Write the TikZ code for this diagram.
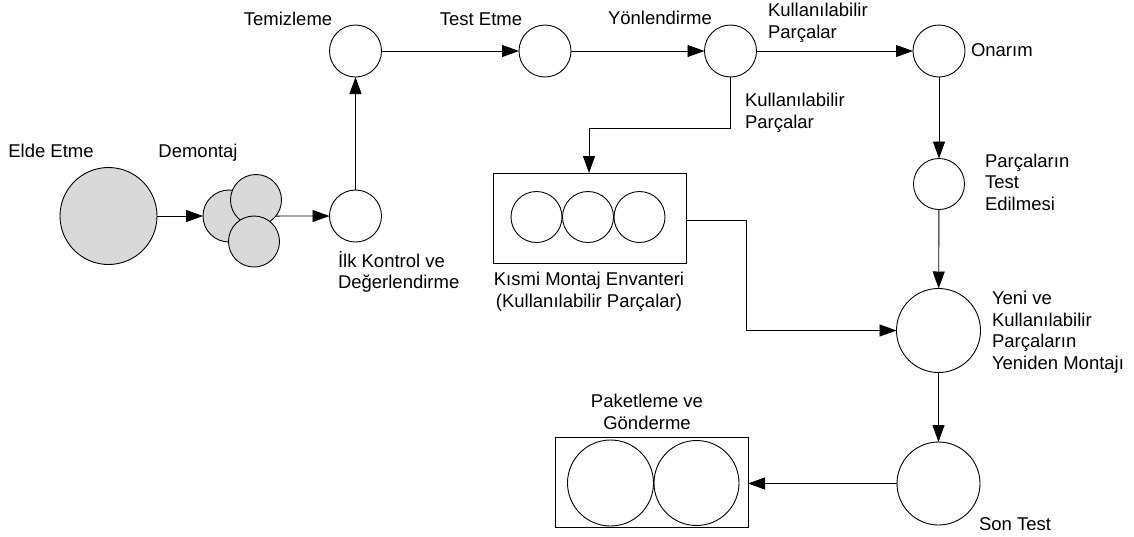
\documentclass[tikz,border=0pt]{standalone}
\usepackage{fontspec}
\setmainfont{Liberation Sans}
\usetikzlibrary{arrows.meta}
\begin{document}
\begin{tikzpicture}[x=1pt,y=-1pt,
  every node/.style={inner sep=0pt,outer sep=0pt},
  proc/.style={circle,draw,line width=0.9pt,fill=white},
  part/.style={circle,draw,line width=0.9pt,fill=gray!30},
  tray/.style={draw,line width=0.9pt,fill=white},
  flow/.style={draw,line width=0.9pt,-{Triangle[length=17pt,width=12pt]}},
  lbl/.style={font=\fontsize{18.5}{21.5}\selectfont,align=center},
  lbll/.style={font=\fontsize{18.5}{21.5}\selectfont,align=left,anchor=west}]
\useasboundingbox (0,0) rectangle (1134,536);

% acquisition and disassembly
\node[part,minimum size=97pt] (elde) at (108.5,216) {};
\node[part,minimum size=52pt] (dm1) at (229,216) {};
\node[part,minimum size=51pt] (dm2) at (256,200) {};
\node[part,minimum size=51pt] (dm3) at (254,241.5) {};

% single process steps
\node[proc,minimum size=52pt] (ilk) at (355.5,216) {};
\node[proc,minimum size=52pt] (temiz) at (355.5,51) {};
\node[proc,minimum size=52pt] (test) at (545,51) {};
\node[proc,minimum size=52pt] (yon) at (730.5,51) {};
\node[proc,minimum size=52pt] (onarim) at (939,51) {};
\node[proc,minimum size=51pt] (ptest) at (939,184) {};
\node[proc,minimum size=84pt] (yeni) at (938.5,330.5) {};
\node[proc,minimum size=83pt] (son) at (938.5,483.5) {};

% sub-assembly inventory
\node[tray,minimum width=193pt,minimum height=90pt] (kismi) at (589.5,218) {};
\node[proc,minimum size=51pt] (k1) at (536.5,217) {};
\node[proc,minimum size=51pt] (k2) at (588,217) {};
\node[proc,minimum size=51pt] (k3) at (639.5,217) {};

% packaging and shipping
\node[tray,minimum width=193pt,minimum height=90pt] (paket) at (651.5,482) {};
\node[proc,minimum size=86pt] (p1) at (610.5,483) {};
\node[proc,minimum size=85pt] (p2) at (696.5,483) {};

% connectors
\path[flow] (elde) -- (dm1);
\path[flow] (dm2.-39) -- (ilk);
\path[flow] (ilk) -- (temiz);
\path[flow] (temiz) -- (test);
\path[flow] (test) -- (yon);
\path[flow] (yon) -- (onarim);
\coordinate (c1) at (730.5,128);
\coordinate (c2) at (589,128);
\path[flow] (yon.south) -- (c1) -- (c2) -- (c2 |- kismi.north);
\coordinate (c3) at (746,220);
\coordinate (c4) at (746,330.5);
\path[flow] (kismi.east |- c3) -- (c3) -- (c4) -- (yeni.west);
\path[flow] (onarim) -- (ptest);
\path[flow] (ptest) -- (yeni);
\path[flow] (yeni) -- (son);
\path[flow] (son.west) -- (paket.east |- son.west);

% labels
\node[lbl] (tElde) at (51,151) {Elde Etme};
\node[lbl] (tDem) at (198,153) {Demontaj};
\node[lbll] (tIlk) at (338,272) {İlk Kontrol ve\\Değerlendirme};
\node[lbl] (tTem) at (288,19) {Temizleme};
\node[lbl] (tTest) at (481,19) {Test Etme};
\node[lbl] (tYon) at (660,18) {Yönlendirme};
\node[lbll] (tKul1) at (768,23) {Kullanılabilir\\Parçalar};
\node[lbll] (tKul2) at (745,113) {Kullanılabilir\\Parçalar};
\node[lbll] (tOn) at (971,50) {Onarım};
\node[lbll] (tPt) at (985,182) {Parçaların\\Test\\Edilmesi};
\node[lbll] (tYeni) at (992,332) {Yeni ve\\Kullanılabilir\\Parçaların\\Yeniden Montajı};
\node[lbll] (tSon) at (979,524) {Son Test};
\node[lbl] (tKis) at (589,292) {Kısmi Montaj Envanteri\\(Kullanılabilir Parçalar)};
\node[lbl] (tPak) at (647,412) {Paketleme ve\\Gönderme};
\end{tikzpicture}
\end{document}
